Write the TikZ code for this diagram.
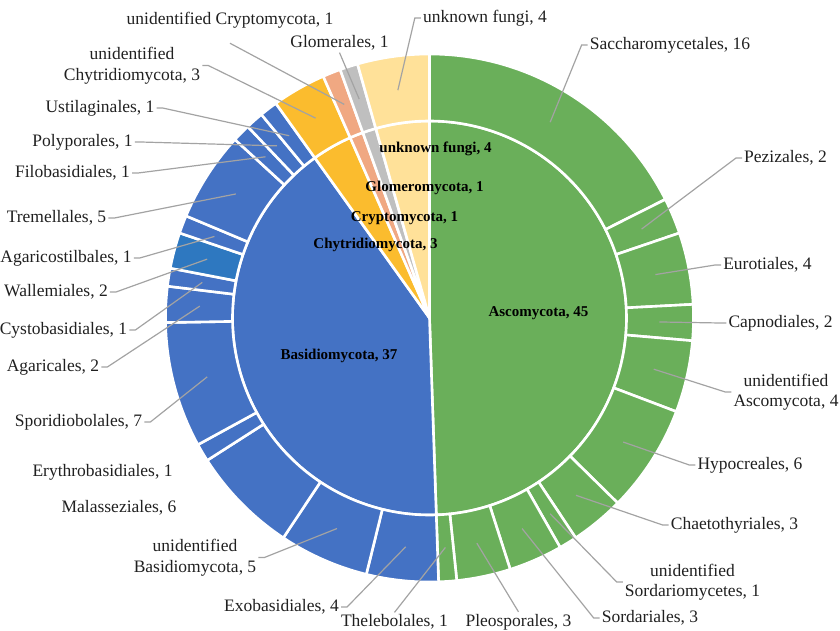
\documentclass[tikz,border=0pt]{standalone}
\usepackage{fontspec}
\setmainfont{Liberation Serif}
\usepackage{tikz}
\usetikzlibrary{calc}
\definecolor{asco}{HTML}{6AAF5A}
\definecolor{basi}{HTML}{4472C4}
\definecolor{wallc}{HTML}{2E78C0}
\definecolor{chyt}{HTML}{FBBC2E}
\definecolor{cryp}{HTML}{F0A882}
\definecolor{glom}{HTML}{BFBFBF}
\definecolor{unkn}{HTML}{FFE199}
\definecolor{leadc}{HTML}{A3A3A3}
\definecolor{ink}{HTML}{202020}
\tikzset{
  sect/.style={draw=white, line width=2.6pt, line join=round},
  lead/.style={draw=leadc, line width=1.2pt},
  lab/.style={text=ink, font=\fontsize{17.5}{20.5}\selectfont, inner sep=2pt, align=center},
  labi/.style={text=black, font=\bfseries\fontsize{15}{17}\selectfont, inner sep=1pt},
}

\begin{document}
\begin{tikzpicture}[x=1pt,y=-1pt]
  \useasboundingbox (0,0) rectangle (840,631);
  \def\u{3.956044}
  \def\rp{197}
  \def\ro{264}
  \def\rl{230}
  \begin{scope}[shift={(429.5,318)},y=1pt]
    % phyla
    \foreach \a/\b/\c in {0/45/asco,45/82/basi,82/85/chyt,85/86/cryp,86/87/glom,87/91/unkn}{
      \pgfmathsetmacro\ta{90-\a*\u}
      \pgfmathsetmacro\tb{90-\b*\u}
      \filldraw[sect,fill=\c] (0,0) -- (\ta:\rp) arc[start angle=\ta,end angle=\tb,radius=\rp] -- cycle;
    }
    % orders
    \foreach \a/\b/\c in {0/16/asco,16/18/asco,18/22/asco,22/24/asco,24/28/asco,28/34/asco,
        34/37/asco,37/38/asco,38/41/asco,41/44/asco,44/45/asco,
        45/49/basi,49/54/basi,54/60/basi,60/61/basi,61/68/basi,68/70/basi,70/71/basi,
        71/73/wallc,73/74/basi,74/79/basi,79/80/basi,80/81/basi,81/82/basi,
        82/85/chyt,85/86/cryp,86/87/glom,87/91/unkn}{
      \pgfmathsetmacro\ta{90-\a*\u}
      \pgfmathsetmacro\tb{90-\b*\u}
      \filldraw[sect,fill=\c] (\ta:\rp) -- (\ta:\ro) arc[start angle=\ta,end angle=\tb,radius=\ro]
        -- (\tb:\rp) arc[start angle=\tb,end angle=\ta,radius=\rp] -- cycle;
    }
    \foreach \n/\m in {sacc/8,pezi/17,euro/20,capn/23,uasc/26,hypo/31,chae/35.5,usor/37.5,
        sord/39.5,pleo/42.5,thel/44.5,exob/47,ubas/51.5,spor/64.5,agar/69,cyst/70.5,
        wlm/72,agst/73.5,trem/76.5,filo/79.5,poly/80.5,usti/81.5,uchy/83.5,ucry/85.5,
        glmr/86.5,unkf/89}
      \coordinate (p-\n) at ({90-\m*\u}:\rl);
  \end{scope}

  % outer labels
  \node[lab] (unkf) at (485,18) {unknown fungi, 4};
  \node[lab] (sacc) at (670,45) {Saccharomycetales, 16};
  \node[lab] (pezi) at (785.5,158) {Pezizales, 2};
  \node[lab] (euro) at (767.5,265) {Eurotiales, 4};
  \node[lab] (capn) at (780.5,323) {Capnodiales, 2};
  \node[lab] (uasc) at (786,392) {unidentified\\Ascomycota, 4};
  \node[lab] (hypo) at (750,465) {Hypocreales, 6};
  \node[lab] (chae) at (734.5,525) {Chaetothyriales, 3};
  \node[lab] (usor) at (692.5,582) {unidentified\\Sordariomycetes, 1};
  \node[lab] (sord) at (650,618) {Sordariales, 3};
  \node[lab] (pleo) at (518.5,622) {Pleosporales, 3};
  \node[lab] (thel) at (394.5,622) {Thelebolales, 1};
  \node[lab] (exob) at (281.5,607) {Exobasidiales, 4};
  \node[lab] (ubas) at (195,557.5) {unidentified\\Basidiomycota, 5};
  \node[lab] (mala) at (119,508) {Malasseziales, 6};
  \node[lab] (eryt) at (102.5,472) {Erythrobasidiales, 1};
  \node[lab] (spor) at (78.5,422) {Sporidiobolales, 7};
  \node[lab] (agar) at (53,367) {Agaricales, 2};
  \node[lab] (cyst) at (63.5,330) {Cystobasidiales, 1};
  \node[lab] (wlm) at (56,292) {Wallemiales, 2};
  \node[lab] (agst) at (66,258) {Agaricostilbales, 1};
  \node[lab] (trem) at (56.5,218) {Tremellales, 5};
  \node[lab] (filo) at (72.5,173) {Filobasidiales, 1};
  \node[lab] (poly) at (82.5,142) {Polyporales, 1};
  \node[lab] (usti) at (100,108) {Ustilaginales, 1};
  \node[lab] (uchy) at (132,65.5) {unidentified\\Chytridiomycota, 3};
  \node[lab] (ucry) at (230,20) {unidentified Cryptomycota, 1};
  \node[lab] (glmr) at (339.5,43) {Glomerales, 1};

  % leader lines
  \foreach \n in {unkf,sacc,pezi,euro,capn,uasc,hypo,chae,usor,sord}
    \draw[lead] (p-\n) -- ($(\n.west)+(-6,0)$) -- (\n.west);
  \foreach \n in {exob,ubas,spor,agar,cyst,wlm,agst,trem,filo,poly,usti,uchy}
    \draw[lead] (p-\n) -- ($(\n.east)+(6,0)$) -- (\n.east);
  \coordinate (ucry-e) at ($(ucry.south)+(0,13)$);
  \draw[lead] (p-thel) -- (thel.north);
  \draw[lead] (p-pleo) -- (pleo.north);
  \draw[lead] (p-glmr) -- (glmr.south);
  \draw[lead] (p-ucry) -- (ucry-e);

  % inner labels
  \node[labi] (unk) at (435.5,149) {unknown fungi, 4};
  \node[labi] (gly) at (424.5,188) {Glomeromycota, 1};
  \node[labi] (cry) at (404.5,218) {Cryptomycota, 1};
  \node[labi] (chy) at (375.5,245) {Chytridiomycota, 3};
  \node[labi] (asc) at (538.5,313) {Ascomycota, 45};
  \node[labi] (bas) at (339,356) {Basidiomycota, 37};
\end{tikzpicture}
\end{document}
